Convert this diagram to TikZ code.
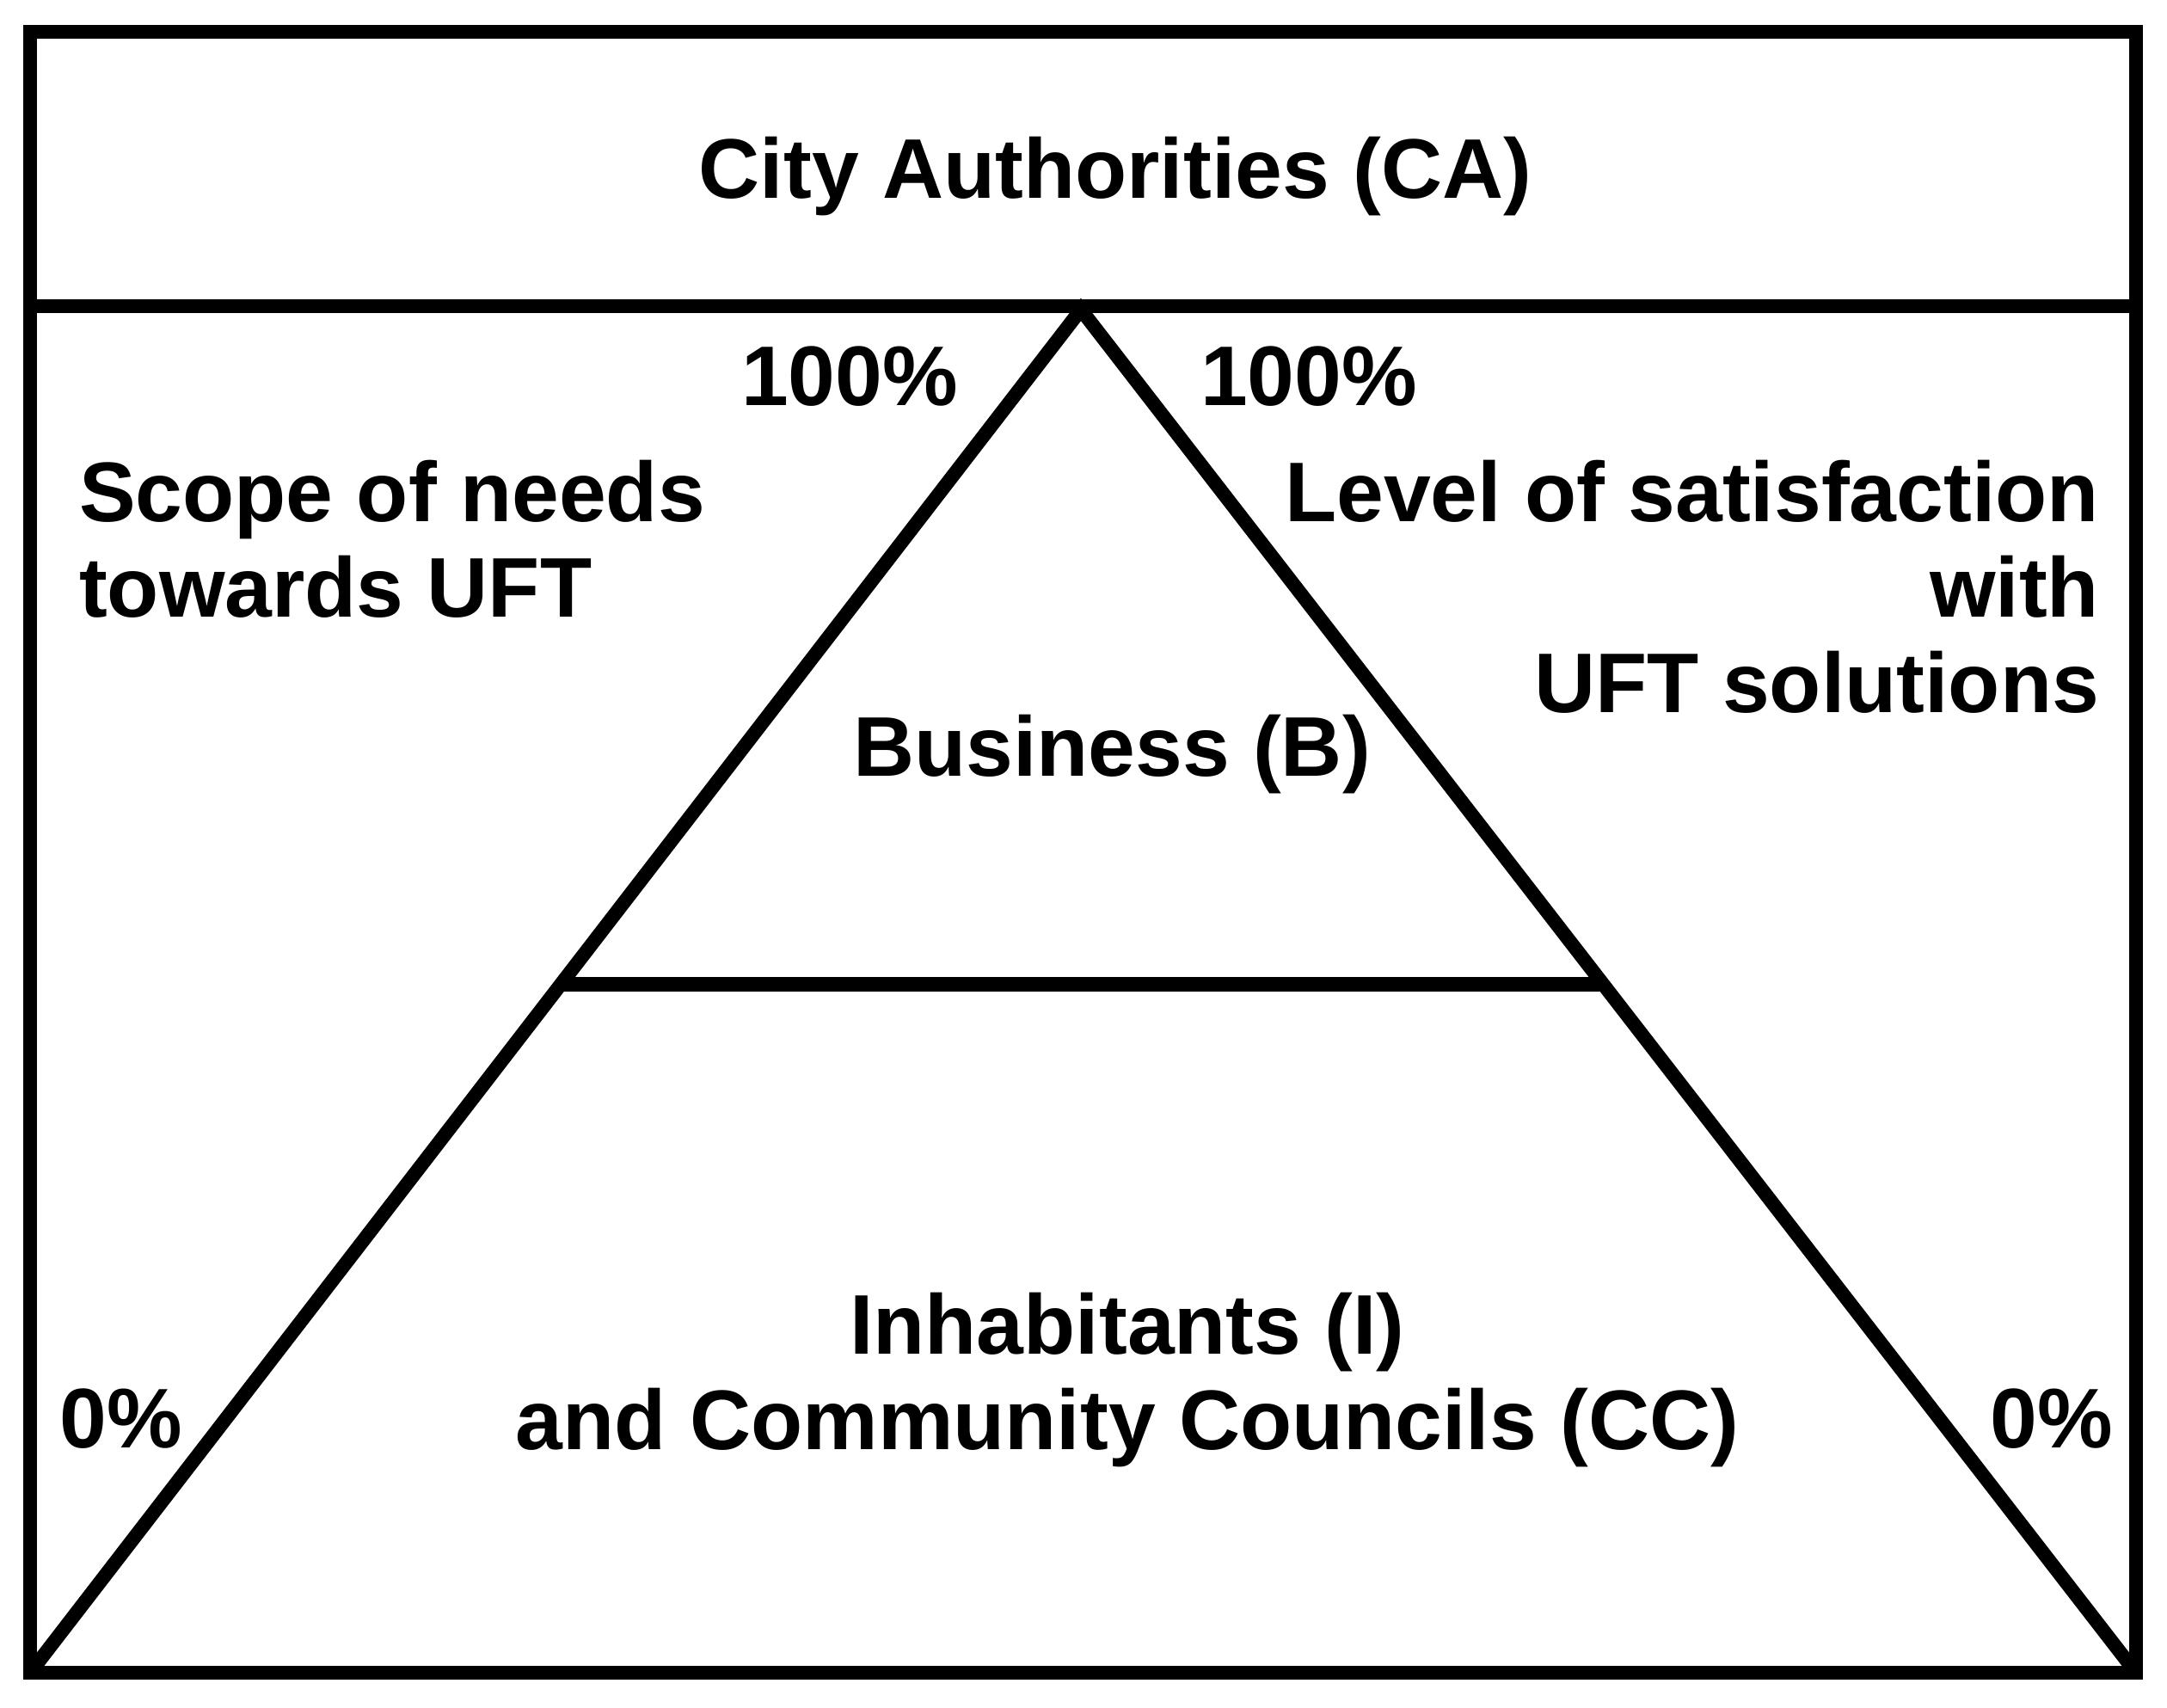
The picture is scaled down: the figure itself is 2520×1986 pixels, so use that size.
\documentclass[tikz,border=0pt]{standalone}
\usepackage{fontspec}
\setmainfont{Liberation Sans}
\usetikzlibrary{calc}

\begin{document}
\begin{tikzpicture}[x=0.01cm, y=-0.01cm, line width=4.6pt,
  label text/.style={font=\bfseries\fontsize{28}{31.6}\selectfont, inner sep=0pt}]
\useasboundingbox (0,0) rectangle (2520,1986);
\coordinate (tl)   at (35,37);
\coordinate (br)   at (2484,1945);
\coordinate (bl)   at (35,1945);
\coordinate (cal)  at (35,356);
\coordinate (car)  at (2484,356);
\coordinate (apex) at (1257,360);
\coordinate (ml)   at ($(apex)!0.495!(bl)$);
\coordinate (mr)   at ($(apex)!0.495!(br)$);
\draw (tl) rectangle (br);
\draw (cal) -- (car);
\draw[line join=miter] (bl) -- (apex) -- (br);
\draw (ml) -- (mr);

% multi-line nodes sit on the baseline of their last line
\node[label text, anchor=base]                    (ca)    at (1297,231)  {City Authorities (CA)};
\node[label text, anchor=base]                    (pl)    at (988,472)   {100\%};
\node[label text, anchor=base]                    (pr)    at (1522,472)  {100\%};
\node[label text, anchor=base west, align=left]   (scope) at (84,718)    {Scope of needs\\towards UFT};
\node[label text, anchor=base east, align=right]  (level) at (2449,829)  {Level of satisfaction\\with\\UFT solutions};
\node[label text, anchor=base]                    (bus)   at (1293,903)  {Business (B)};
\node[label text, anchor=base, align=center]      (inh)   at (1311,1686) {Inhabitants (I)\\and Community Councils (CC)};
\node[label text, anchor=base]                    (zl)    at (141,1684)  {0\%};
\node[label text, anchor=base]                    (zr)    at (2386,1684) {0\%};
\end{tikzpicture}
\end{document}
